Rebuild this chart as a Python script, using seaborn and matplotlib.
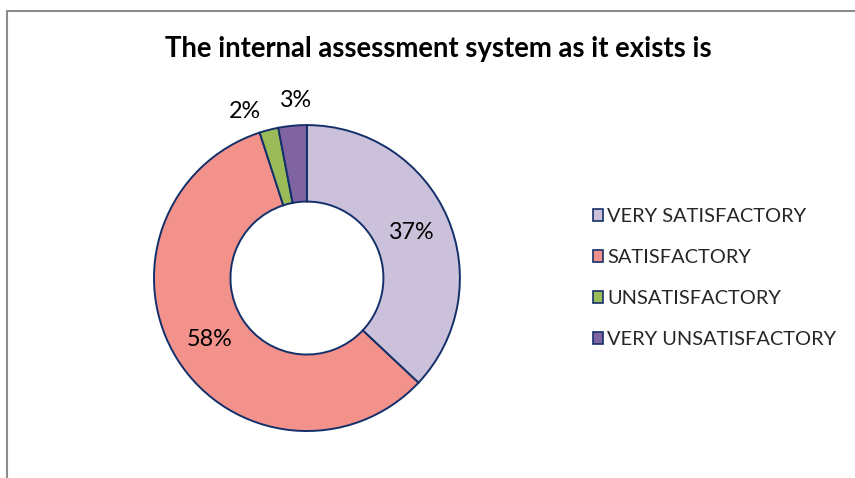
import matplotlib
matplotlib.use("Agg")
import matplotlib.pyplot as plt
from matplotlib.patches import Patch
from matplotlib.lines import Line2D
import numpy as np
import seaborn as sns

sns.set_theme(style="white")
plt.rcParams['font.family'] = ['Lato', 'DejaVu Sans']

title = "The internal assessment system as it exists is"
categories = ["VERY SATISFACTORY", "SATISFACTORY", "UNSATISFACTORY", "VERY UNSATISFACTORY"]
values = [37, 58, 2, 3]
colors = ["#CCC1DA", "#F2928A", "#9BBB59", "#8064A2"]
edge = "#14306A"

fig = plt.figure(figsize=(8.55, 4.78), dpi=100)
ax = fig.add_axes([0.180, 0.0983, 0.358, 0.640])

wedges, _ = ax.pie(values, colors=colors, startangle=90, counterclock=False,
                   radius=1.0,
                   wedgeprops=dict(width=0.5, edgecolor=edge, linewidth=1.4))
ax.set_xlim(-1, 1)
ax.set_ylim(-1, 1)
ax.set_aspect("equal")
ax.axis("off")

# percentage labels: inside the ring for large slices, outside for small ones
nudge = {2: 6.0, 3: -2.0}
for i, (w, v) in enumerate(zip(wedges, values)):
    mid = (w.theta1 + w.theta2) / 2.0
    if v >= 10:
        r = 0.75
    else:
        r = 1.16
        mid += nudge.get(i, 0.0)
    x = r * np.cos(np.radians(mid))
    y = r * np.sin(np.radians(mid))
    ax.text(x, y, f"{v}%", ha="center", va="center", fontsize=16.8,
            color="black", clip_on=False)

fig.text(0.513, 0.898, title, ha="center", va="center", fontsize=19.8,
         fontweight="bold", color="black")

handles = [Patch(facecolor=c, edgecolor=edge, linewidth=1.2) for c in colors]
fig.legend(handles, categories, loc="center left",
           bbox_to_anchor=(0.684, 0.418), frameon=False, fontsize=14.4,
           handlelength=0.52, handleheight=0.52, handletextpad=0.2,
           labelspacing=1.2, borderaxespad=0)

# chart-area border (top and left edges)
fig.add_artist(Line2D([7 / 855, 1.0], [1 - 11 / 478, 1 - 11 / 478],
                      transform=fig.transFigure, color="#8C8C8C", linewidth=1.5))
fig.add_artist(Line2D([7 / 855, 7 / 855], [1 - 11 / 478, 0.0],
                      transform=fig.transFigure, color="#8C8C8C", linewidth=1.5))

fig.savefig("out.png", dpi=100, facecolor="white")
